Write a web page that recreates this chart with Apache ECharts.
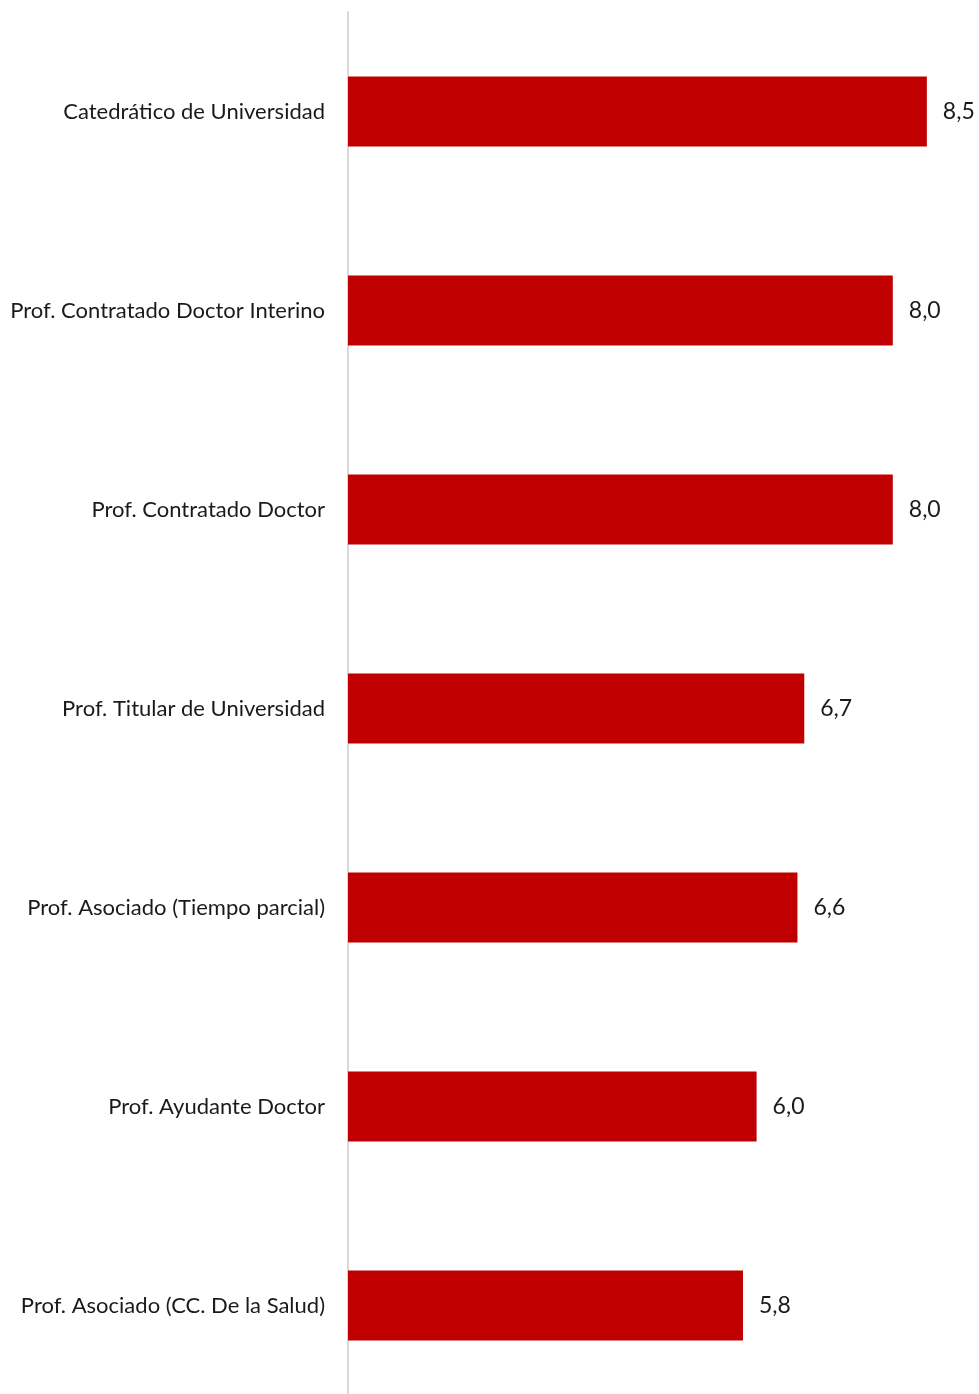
<!DOCTYPE html>
<html><head><meta charset="utf-8">
<script src="https://cdn.jsdelivr.net/npm/echarts@6/dist/echarts.min.js"></script>
<style>html,body{margin:0;padding:0;background:#fff}#c{width:979px;height:1394px}</style>
</head><body><div id="c"></div>
<script>
const categories = [
  "Catedrático de Universidad",
  "Prof. Contratado Doctor Interino",
  "Prof. Contratado Doctor",
  "Prof. Titular de Universidad",
  "Prof. Asociado (Tiempo parcial)",
  "Prof. Ayudante Doctor",
  "Prof. Asociado (CC. De la Salud)"
];
const values = [8.5, 8.0, 8.0, 6.7, 6.6, 6.0, 5.8];

const chart = echarts.init(document.getElementById('c'));
chart.setOption({
  animation: false,
  grid: { left: 348, top: 12, width: 612.9, height: 1393, outerBoundsMode: 'none', containLabel: false },
  xAxis: { type: 'value', min: 0, max: 9, show: false },
  yAxis: {
    type: 'category', inverse: true, data: categories,
    axisLine: { show: true, lineStyle: { color: '#d9d9d9', width: 2 } },
    axisTick: { show: false },
    axisLabel: { margin: 23, fontFamily: 'Lato', fontSize: 22, color: '#1a1a1a' }
  },
  series: [{
    type: 'bar', data: values, barWidth: 70,
    itemStyle: { color: '#c00000' },
    label: {
      show: true, position: 'right', distance: 16,
      fontFamily: 'Lato', fontSize: 23, color: '#1a1a1a',
      formatter: p => p.value.toFixed(1).replace('.', ',')
    }
  }]
});
</script></body></html>
